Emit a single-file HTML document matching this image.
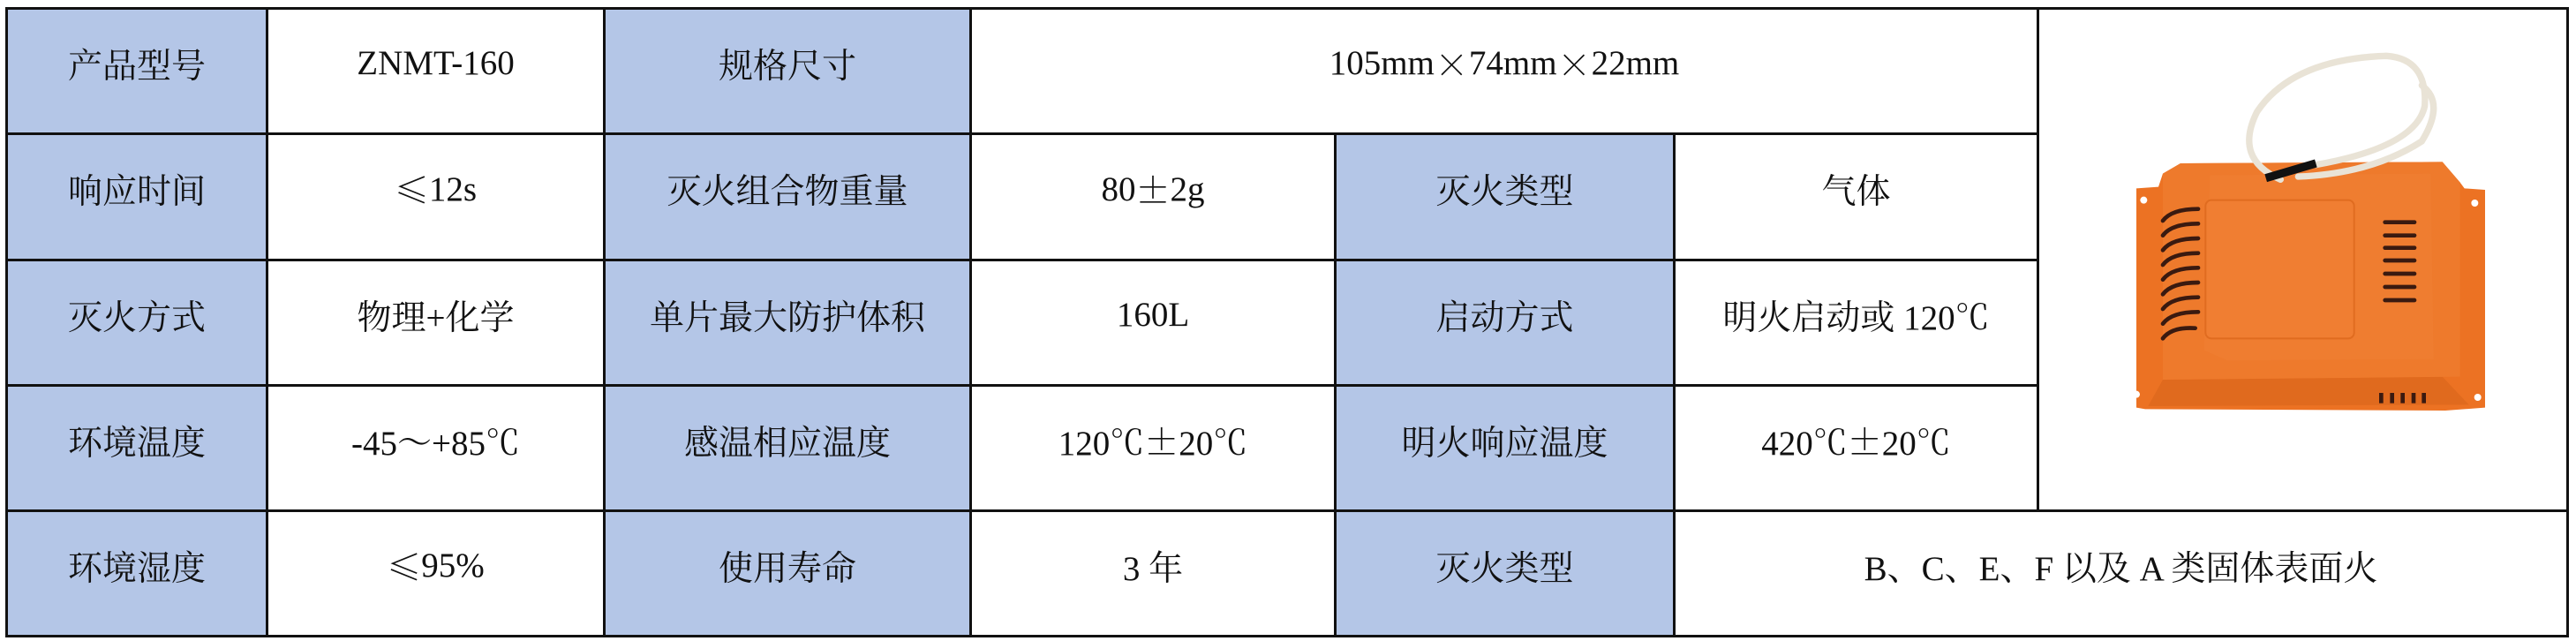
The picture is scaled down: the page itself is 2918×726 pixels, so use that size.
<!DOCTYPE html>
<html><head><meta charset="utf-8"><style>
html,body{margin:0;padding:0;background:#fff;}
body{width:2918px;height:726px;position:relative;overflow:hidden;font-family:"Liberation Serif","Noto Serif CJK SC",serif;}
.c{position:absolute;box-sizing:border-box;border:3px solid #111;display:flex;align-items:center;justify-content:center;font-size:39px;color:#111;padding-bottom:18px;}
.b{background:#b4c6e7;}
.w{background:#fff;}
.k{font-family:"Noto Serif CJK SC",serif;}
</style></head><body>
<div class="c b" style="left:6px;top:8px;width:298px;height:145px;">产品型号</div>
<div class="c w" style="left:301px;top:8px;width:385px;height:145px;">ZNMT-160</div>
<div class="c b" style="left:683px;top:8px;width:418px;height:145px;">规格尺寸</div>
<div class="c w" style="left:1098px;top:8px;width:1212px;height:145px;">105mm<span class="k">×</span>74mm<span class="k">×</span>22mm</div>
<div class="c b" style="left:6px;top:150px;width:298px;height:146px;">响应时间</div>
<div class="c w" style="left:301px;top:150px;width:385px;height:146px;"><span class="k">≤</span>12s</div>
<div class="c b" style="left:683px;top:150px;width:418px;height:146px;">灭火组合物重量</div>
<div class="c w" style="left:1098px;top:150px;width:416px;height:146px;">80<span class="k">±</span>2g</div>
<div class="c b" style="left:1511px;top:150px;width:387px;height:146px;">灭火类型</div>
<div class="c w" style="left:1895px;top:150px;width:415px;height:146px;">气体</div>
<div class="c b" style="left:6px;top:293px;width:298px;height:145px;">灭火方式</div>
<div class="c w" style="left:301px;top:293px;width:385px;height:145px;">物理+化学</div>
<div class="c b" style="left:683px;top:293px;width:418px;height:145px;">单片最大防护体积</div>
<div class="c w" style="left:1098px;top:293px;width:416px;height:145px;">160L</div>
<div class="c b" style="left:1511px;top:293px;width:387px;height:145px;">启动方式</div>
<div class="c w" style="left:1895px;top:293px;width:415px;height:145px;">明火启动或 120℃</div>
<div class="c b" style="left:6px;top:435px;width:298px;height:145px;">环境温度</div>
<div class="c w" style="left:301px;top:435px;width:385px;height:145px;">-45～+85℃</div>
<div class="c b" style="left:683px;top:435px;width:418px;height:145px;">感温相应温度</div>
<div class="c w" style="left:1098px;top:435px;width:416px;height:145px;">120℃<span class="k">±</span>20℃</div>
<div class="c b" style="left:1511px;top:435px;width:387px;height:145px;">明火响应温度</div>
<div class="c w" style="left:1895px;top:435px;width:415px;height:145px;">420℃<span class="k">±</span>20℃</div>
<div class="c b" style="left:6px;top:577px;width:298px;height:145px;">环境湿度</div>
<div class="c w" style="left:301px;top:577px;width:385px;height:145px;"><span class="k">≤</span>95%</div>
<div class="c b" style="left:683px;top:577px;width:418px;height:145px;">使用寿命</div>
<div class="c w" style="left:1098px;top:577px;width:416px;height:145px;">3 年</div>
<div class="c b" style="left:1511px;top:577px;width:387px;height:145px;">灭火类型</div>
<div class="c w" style="left:1895px;top:577px;width:1015px;height:145px;">B、C、E、F 以及 A 类固体表面火</div>
<div class="c w" style="left:2307px;top:8px;width:603px;height:572px;"></div>
<svg style="position:absolute;left:2370px;top:40px;" width="470" height="450" viewBox="0 0 1410 1350">
  <path d="M150 520 L225 515 L240 470 L300 435 L1190 430 L1250 500 L1265 520 L1335 525 L1335 1265 L1200 1275 L180 1270 L150 1265 Z" fill="#ec7223"/>
  <path d="M190 1260 L240 1170 L1190 1160 L1280 1255 Z" fill="#e06a1e"/>
  <path d="M240 470 L300 435 L1190 430 L1250 500 L1250 1160 L240 1170 Z" fill="#ee7a2c"/>
  <path d="M400 475 L1150 470 L1160 1100 L460 1105 L380 1070 Z" fill="#ef7d30"/>
  <rect x="385" y="560" width="505" height="470" rx="20" fill="#f07e32" stroke="#e06c20" stroke-width="6"/>
  <circle cx="175" cy="560" r="12" fill="#fff"/><circle cx="1300" cy="570" r="12" fill="#fff"/>
  <circle cx="150" cy="1220" r="12" fill="#fff"/><circle cx="1310" cy="1230" r="12" fill="#fff"/>
  <g stroke="#3a1a10" stroke-width="14" stroke-linecap="round" fill="none">
    <path d="M240 630 Q270 590 360 590"/><path d="M240 680 Q270 640 360 640"/>
    <path d="M240 730 Q270 690 360 690"/><path d="M240 780 Q270 740 360 740"/>
    <path d="M240 830 Q270 790 360 790"/><path d="M240 880 Q270 840 360 840"/>
    <path d="M240 930 Q270 890 360 890"/><path d="M240 980 Q270 940 360 940"/>
    <path d="M240 1030 Q270 990 350 995"/>
    <path d="M995 635 H1095"/><path d="M995 680 H1095"/><path d="M995 722 H1095"/>
    <path d="M995 765 H1095"/><path d="M995 810 H1095"/><path d="M995 855 H1095"/><path d="M995 900 H1095"/>
  </g>
  <g fill="#3a1a10"><rect x="975" y="1215" width="14" height="35"/><rect x="1012" y="1215" width="14" height="35"/><rect x="1048" y="1215" width="14" height="35"/><rect x="1085" y="1215" width="14" height="35"/><rect x="1120" y="1215" width="14" height="35"/></g>
  <g fill="none" stroke="#e9e3d6" stroke-width="22" stroke-linecap="round">
    <path d="M640 490 Q480 420 560 260 Q680 80 1000 70 Q1140 80 1130 240 Q1100 380 760 440"/>
    <path d="M700 480 Q950 470 1120 360 Q1200 230 1120 170"/>
  </g>
  <path d="M590 485 L760 435" stroke="#111" stroke-width="28"/>
</svg>
</body></html>
